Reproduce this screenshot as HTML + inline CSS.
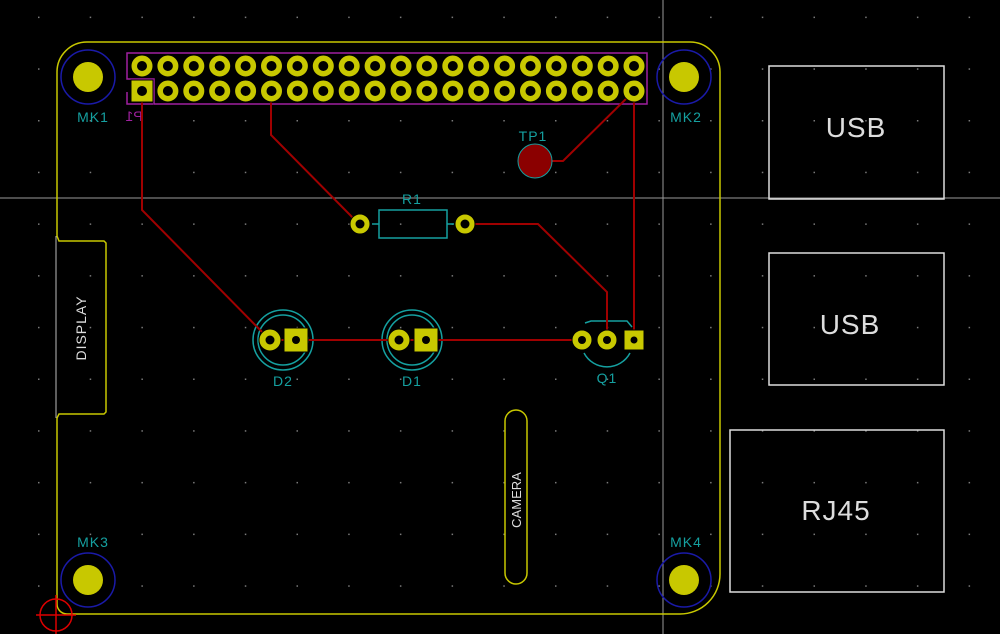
<!DOCTYPE html>
<html><head><style>
html,body{margin:0;padding:0;background:#000;}
svg{display:block;}
text{font-family:"Liberation Sans",sans-serif;}
</style></head><body>
<svg width="1000" height="634" viewBox="0 0 1000 634" xmlns="http://www.w3.org/2000/svg">
<defs>
<pattern id="g" x="38" y="16.6" width="51.7" height="51.7" patternUnits="userSpaceOnUse">
<rect x="0" y="0" width="1.5" height="1.5" fill="#7a7a7a"/>
</pattern>
</defs>
<rect width="1000" height="634" fill="#000"/>
<rect width="1000" height="634" fill="url(#g)"/>
<line x1="663" y1="0" x2="663" y2="634" stroke="#9a9a9a" stroke-width="1"/>
<line x1="0" y1="198" x2="1000" y2="198" stroke="#9a9a9a" stroke-width="1"/>
<path d="M87,42 H690 A30,30 0 0 1 720,72 V574 A40,40 0 0 1 680,614 H67 A10,10 0 0 1 57,604 V418 M57,236 V72 A30,30 0 0 1 87,42" fill="none" stroke="#c8c800" stroke-width="1.5"/>
<path d="M57,236 L59,241 H104 L106,243 V412 L104,414 H59 L57,418" fill="none" stroke="#c8c800" stroke-width="1.5"/>
<line x1="56" y1="236" x2="56" y2="418" stroke="#bbb" stroke-width="1"/>
<text transform="translate(86,328) rotate(-90)" text-anchor="middle" font-size="14" fill="#ddd" letter-spacing="1">DISPLAY</text>
<rect x="505" y="410" width="22" height="174" rx="11" fill="none" stroke="#c8c800" stroke-width="1.5"/>
<text transform="translate(521,500) rotate(-90)" text-anchor="middle" font-size="13" fill="#ddd">CAMERA</text>
<rect x="769" y="66" width="175" height="133" fill="none" stroke="#ddd" stroke-width="1.5"/>
<rect x="769" y="253" width="175" height="132" fill="none" stroke="#ddd" stroke-width="1.5"/>
<rect x="730" y="430" width="214" height="162" fill="none" stroke="#ddd" stroke-width="1.5"/>
<text x="856" y="137" text-anchor="middle" font-size="28" fill="#ddd" letter-spacing="1">USB</text>
<text x="850" y="334" text-anchor="middle" font-size="28" fill="#ddd" letter-spacing="1">USB</text>
<text x="836" y="520" text-anchor="middle" font-size="28" fill="#ddd" letter-spacing="1">RJ45</text>
<g fill="none" stroke="#1a1aa8" stroke-width="1.5">
<circle cx="88" cy="77" r="27"/><circle cx="684" cy="77" r="27"/>
<circle cx="88" cy="580" r="27"/><circle cx="684" cy="580" r="27"/>
</g>
<g fill="#c8c800">
<circle cx="88" cy="77" r="15"/><circle cx="684" cy="77" r="15"/>
<circle cx="88" cy="580" r="15"/><circle cx="684" cy="580" r="15"/>
</g>
<g font-size="14" fill="#15a0a0" text-anchor="middle" letter-spacing="1">
<text x="93" y="122">MK1</text><text x="686" y="122">MK2</text>
<text x="93" y="547">MK3</text><text x="686" y="547">MK4</text>
<text x="533" y="141">TP1</text><text x="412" y="204">R1</text>
<text x="283" y="386">D2</text><text x="412" y="386">D1</text><text x="607" y="383">Q1</text>
</g>
<text transform="translate(134,121) scale(-1,1)" text-anchor="middle" font-size="14" fill="#a020a0">P1</text>
<g stroke="#d00" stroke-width="1.5" fill="none">
<circle cx="56" cy="615" r="16"/><line x1="36" y1="615" x2="76" y2="615"/><line x1="56" y1="595" x2="56" y2="634"/>
</g>
<path d="M127,79 V53 H647 V104 H154 V79 Z" fill="none" stroke="#a020a0" stroke-width="1.5"/>
<path d="M127,92 V104 H153" fill="none" stroke="#a020a0" stroke-width="1.5"/>
<g fill="none" stroke="#15a0a0" stroke-width="1.5">
<rect x="379" y="210" width="68" height="28"/>
<line x1="372" y1="224" x2="379" y2="224"/><line x1="447" y1="224" x2="454" y2="224"/>
<circle cx="283" cy="340" r="30"/><circle cx="283" cy="340" r="25"/>
<circle cx="412" cy="340" r="30"/><circle cx="412" cy="340" r="25"/>
<path d="M585,323 L591,321 H627 L632,327 M630,353 A26,26 0 0 1 584,353"/>
</g>
<g fill="none" stroke="#a00000" stroke-width="2">
<path d="M142,91 V210 L270,340"/>
<path d="M271,91 V135 L355,220 L360,224"/>
<path d="M465,224 H538 L607,292 V340"/>
<path d="M634,91 V340"/>
<path d="M634,91 L563,161 H535"/>
<path d="M270,340 H582"/>
</g>
<circle cx="535" cy="161" r="17" fill="#8b0000" stroke="#15a0a0" stroke-width="1"/>
<g fill="#c8c800" stroke="#000" stroke-width="1">
<rect x="131" y="80" width="22" height="22"/>
<circle cx="142" cy="66" r="11"/>
<circle cx="167.9" cy="66" r="11"/><circle cx="167.9" cy="91" r="11"/>
<circle cx="193.8" cy="66" r="11"/><circle cx="193.8" cy="91" r="11"/>
<circle cx="219.7" cy="66" r="11"/><circle cx="219.7" cy="91" r="11"/>
<circle cx="245.6" cy="66" r="11"/><circle cx="245.6" cy="91" r="11"/>
<circle cx="271.5" cy="66" r="11"/><circle cx="271.5" cy="91" r="11"/>
<circle cx="297.4" cy="66" r="11"/><circle cx="297.4" cy="91" r="11"/>
<circle cx="323.3" cy="66" r="11"/><circle cx="323.3" cy="91" r="11"/>
<circle cx="349.2" cy="66" r="11"/><circle cx="349.2" cy="91" r="11"/>
<circle cx="375.1" cy="66" r="11"/><circle cx="375.1" cy="91" r="11"/>
<circle cx="401" cy="66" r="11"/><circle cx="401" cy="91" r="11"/>
<circle cx="426.9" cy="66" r="11"/><circle cx="426.9" cy="91" r="11"/>
<circle cx="452.8" cy="66" r="11"/><circle cx="452.8" cy="91" r="11"/>
<circle cx="478.7" cy="66" r="11"/><circle cx="478.7" cy="91" r="11"/>
<circle cx="504.6" cy="66" r="11"/><circle cx="504.6" cy="91" r="11"/>
<circle cx="530.5" cy="66" r="11"/><circle cx="530.5" cy="91" r="11"/>
<circle cx="556.4" cy="66" r="11"/><circle cx="556.4" cy="91" r="11"/>
<circle cx="582.3" cy="66" r="11"/><circle cx="582.3" cy="91" r="11"/>
<circle cx="608.2" cy="66" r="11"/><circle cx="608.2" cy="91" r="11"/>
<circle cx="634" cy="66" r="11"/><circle cx="634" cy="91" r="11"/>
<circle cx="360" cy="224" r="10"/><circle cx="465" cy="224" r="10"/>
<circle cx="270" cy="340" r="11"/><rect x="284" y="328" width="24" height="24"/>
<circle cx="399" cy="340" r="11"/><rect x="414" y="328" width="24" height="24"/>
<circle cx="582" cy="340" r="10"/><circle cx="607" cy="340" r="10"/><rect x="624" y="330" width="20" height="20"/>
</g>
<g fill="#000">
<circle cx="142" cy="91" r="5"/><circle cx="142" cy="66" r="5"/>
<circle cx="167.9" cy="66" r="5"/><circle cx="167.9" cy="91" r="5"/>
<circle cx="193.8" cy="66" r="5"/><circle cx="193.8" cy="91" r="5"/>
<circle cx="219.7" cy="66" r="5"/><circle cx="219.7" cy="91" r="5"/>
<circle cx="245.6" cy="66" r="5"/><circle cx="245.6" cy="91" r="5"/>
<circle cx="271.5" cy="66" r="5"/><circle cx="271.5" cy="91" r="5"/>
<circle cx="297.4" cy="66" r="5"/><circle cx="297.4" cy="91" r="5"/>
<circle cx="323.3" cy="66" r="5"/><circle cx="323.3" cy="91" r="5"/>
<circle cx="349.2" cy="66" r="5"/><circle cx="349.2" cy="91" r="5"/>
<circle cx="375.1" cy="66" r="5"/><circle cx="375.1" cy="91" r="5"/>
<circle cx="401" cy="66" r="5"/><circle cx="401" cy="91" r="5"/>
<circle cx="426.9" cy="66" r="5"/><circle cx="426.9" cy="91" r="5"/>
<circle cx="452.8" cy="66" r="5"/><circle cx="452.8" cy="91" r="5"/>
<circle cx="478.7" cy="66" r="5"/><circle cx="478.7" cy="91" r="5"/>
<circle cx="504.6" cy="66" r="5"/><circle cx="504.6" cy="91" r="5"/>
<circle cx="530.5" cy="66" r="5"/><circle cx="530.5" cy="91" r="5"/>
<circle cx="556.4" cy="66" r="5"/><circle cx="556.4" cy="91" r="5"/>
<circle cx="582.3" cy="66" r="5"/><circle cx="582.3" cy="91" r="5"/>
<circle cx="608.2" cy="66" r="5"/><circle cx="608.2" cy="91" r="5"/>
<circle cx="634" cy="66" r="5"/><circle cx="634" cy="91" r="5"/>
<circle cx="360" cy="224" r="4.5"/><circle cx="465" cy="224" r="4.5"/>
<circle cx="270" cy="340" r="4.5"/><circle cx="296" cy="340" r="4"/>
<circle cx="399" cy="340" r="4.5"/><circle cx="426" cy="340" r="4"/>
<circle cx="582" cy="340" r="4"/><circle cx="607" cy="340" r="4"/><circle cx="634" cy="340" r="3.5"/>
</g>
</svg>
</body></html>
